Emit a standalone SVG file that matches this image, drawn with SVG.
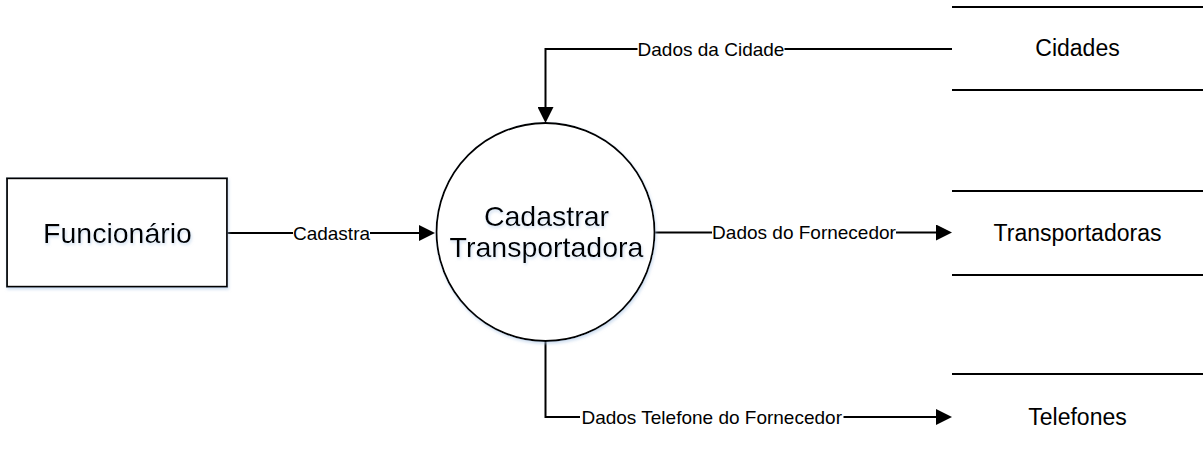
<svg xmlns="http://www.w3.org/2000/svg" width="1203" height="457" viewBox="0 0 1203 457">
  <defs>
    <style>
      .shape { fill: #ffffff; stroke: #000000; stroke-width: 1.8; }
      .store { stroke: #000000; stroke-width: 2; fill: none; }
      .conn { stroke: #000000; stroke-width: 2; fill: none; }
      .big { font-family: "Liberation Sans", Arial, sans-serif; font-size: 28.5px; fill: #000; text-anchor: middle; }
      .storeText { font-family: "Liberation Sans", Arial, sans-serif; font-size: 23px; fill: #000; text-anchor: middle; }
      .label { font-family: "Liberation Sans", Arial, sans-serif; font-size: 19px; fill: #000; text-anchor: middle; }
    </style>
    <marker id="arrow" viewBox="0 0 16 16" refX="12" refY="8" markerWidth="16" markerHeight="16" markerUnits="userSpaceOnUse" orient="auto">
      <path d="M0,0 L16,8 L0,16 z" fill="#000"/>
    </marker>
    <filter id="glow" x="-20%" y="-20%" width="140%" height="140%">
      <feGaussianBlur in="SourceAlpha" stdDeviation="1.6" result="b"/>
      <feOffset in="b" dx="1" dy="1.5" result="o"/>
      <feFlood flood-color="#a9c4e4" flood-opacity="0.55"/>
      <feComposite in2="o" operator="in" result="s"/>
      <feMerge>
        <feMergeNode in="s"/>
        <feMergeNode in="SourceGraphic"/>
      </feMerge>
    </filter>
  </defs>
  <rect width="1203" height="457" fill="#ffffff"/>

  <g id="connectors">
    <!-- Cadastra -->
    <path class="conn" d="M227,233 H293"/>
    <path class="conn" d="M370,233 H431" marker-end="url(#arrow)"/>
    <text class="label" x="331.5" y="239.8">Cadastra</text>
    <!-- Dados da Cidade -->
    <path class="conn" d="M952,49 H784.5"/>
    <path class="conn" d="M637.5,49 H545.5 V119" marker-end="url(#arrow)"/>
    <text class="label" x="711" y="55.8">Dados da Cidade</text>
    <!-- Dados do Fornecedor -->
    <path class="conn" d="M655,232.5 H712"/>
    <path class="conn" d="M896,232.5 H948" marker-end="url(#arrow)"/>
    <text class="label" x="804" y="239.3">Dados do Fornecedor</text>
    <!-- Dados Telefone do Fornecedor -->
    <path class="conn" d="M545.5,341 V417 H580"/>
    <path class="conn" d="M843.5,417 H948" marker-end="url(#arrow)"/>
    <text class="label" x="711.7" y="423.8">Dados Telefone do Fornecedor</text>
  </g>

  <g id="funcionario">
    <rect class="shape" x="7" y="178.3" width="220" height="108.4" filter="url(#glow)"/>
    <text class="big" x="117.5" y="243" filter="url(#glow)">Funcionário</text>
  </g>

  <g id="cadastrar-transportadora">
    <circle class="shape" cx="545.5" cy="232" r="109" filter="url(#glow)"/>
    <text class="big" x="546.5" y="226" filter="url(#glow)">Cadastrar</text>
    <text class="big" x="546.5" y="257" filter="url(#glow)">Transportadora</text>
  </g>

  <g id="cidades">
    <line class="store" x1="952" y1="7" x2="1203" y2="7"/>
    <line class="store" x1="952" y1="90" x2="1203" y2="90"/>
    <text class="storeText" x="1077.5" y="56">Cidades</text>
  </g>

  <g id="transportadoras">
    <line class="store" x1="952" y1="191" x2="1203" y2="191"/>
    <line class="store" x1="952" y1="275" x2="1203" y2="275"/>
    <text class="storeText" x="1077.5" y="241">Transportadoras</text>
  </g>

  <g id="telefones">
    <line class="store" x1="952" y1="374" x2="1203" y2="374"/>
    <text class="storeText" x="1077.5" y="425">Telefones</text>
  </g>
</svg>
